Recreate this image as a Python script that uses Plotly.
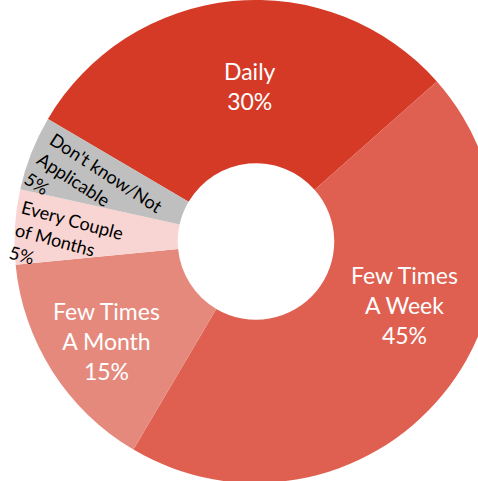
import plotly.graph_objects as go

labels = ["Daily", "Few Times A Week", "Few Times A Month", "Every Couple of Months", "Don't know/Not Applicable"]
values = [30, 45, 15, 5, 5]
colors = ["#D53A27", "#DF6050", "#E5897D", "#F8D5D2", "#BFBFBF"]
display_labels = ["Daily", "Few Times<br>A Week", "Few Times<br>A Month", "Every Couple<br>of Months", "Don't know/Not<br>Applicable"]

W, H = 512, 483

fig = go.Figure(go.Pie(
    labels=labels,
    values=values,
    sort=False,
    direction="clockwise",
    rotation=-59.5,
    hole=0.324,
    marker=dict(colors=colors, line=dict(color="white", width=0)),
    textinfo="none",
    showlegend=False,
    domain=dict(x=[0, 1], y=[0, 1]),
))

FONT = "Lato, 'Open Sans', sans-serif"
label_pos = [(250, 86), (404, 305), (106, 341), (66, 243), (94, 192)]
label_angle = [0, 0, 0, 15, 33]
label_color = ["white", "white", "white", "black", "black"]
label_size = [23, 23, 23, 18, 18]
label_align = ["center", "center", "center", "left", "left"]

for i in range(len(labels)):
    px, py = label_pos[i]
    fig.add_annotation(
        x=px / W, y=1 - py / H, xref="paper", yref="paper",
        xanchor="center", yanchor="middle",
        text=f"{display_labels[i]}<br>{values[i]}%",
        showarrow=False, textangle=label_angle[i], align=label_align[i],
        font=dict(family=FONT, size=label_size[i], color=label_color[i]),
    )

fig.update_layout(
    width=W, height=H,
    margin=dict(l=0, r=0, t=0, b=0),
    paper_bgcolor="white",
)

fig.write_html("out.html", config={"displayModeBar": False},
               post_script="document.body.style.margin='0px';")
